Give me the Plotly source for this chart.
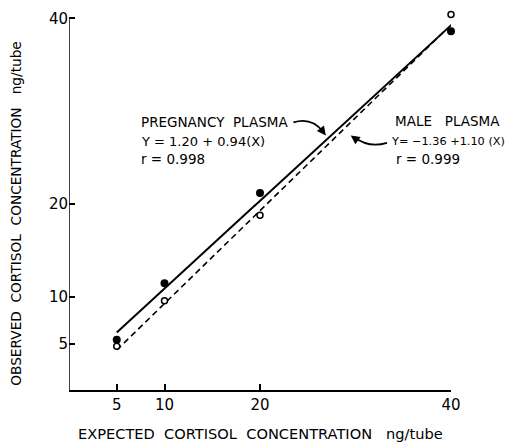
import plotly.graph_objects as go

# Data
expected = [5, 10, 20, 40]
pregnancy_obs = [5.4, 11.5, 21.2, 38.6]
male_obs = [4.7, 9.6, 18.8, 40.4]

# Regression lines as drawn in the figure (endpoints)
preg_line_x = [5, 40.9]
preg_line_y = [6.2, 40.1]
male_line_x = [5, 39.5]
male_line_y = [4.3, 38.8]

x_ticks = [5, 10, 20, 40]
y_ticks = [5, 10, 20, 40]
x_ticklabels = ["5", "10", "20", "40"]
y_ticklabels = ["5", "10", "20", "40"]
axis_max = 40

FONT = "DejaVu Sans, Liberation Sans, sans-serif"

fig = go.Figure()
fig.add_trace(go.Scatter(x=preg_line_x, y=preg_line_y, mode="lines",
                         line=dict(color="black", width=2), cliponaxis=False,
                         showlegend=False, hoverinfo="skip"))
fig.add_trace(go.Scatter(x=male_line_x, y=male_line_y, mode="lines",
                         line=dict(color="black", width=1.6, dash="6px,4px"), cliponaxis=False,
                         showlegend=False, hoverinfo="skip"))
fig.add_trace(go.Scatter(x=expected, y=pregnancy_obs, mode="markers",
                         marker=dict(color="black", size=8), cliponaxis=False,
                         name="Pregnancy plasma", showlegend=False))
fig.add_trace(go.Scatter(x=expected, y=male_obs, mode="markers",
                         marker=dict(color="white", size=6, line=dict(color="black", width=1.5)),
                         cliponaxis=False, name="Male plasma", showlegend=False))

def f(s):
    return dict(size=s, color="black", family=FONT)

annotations = [
    dict(x=7.3, y=28.8, text="PREGNANCY&nbsp;&nbsp;PLASMA", font=f(13.5)),
    dict(x=7.3, y=26.7, text="Y = 1.20 + 0.94(X)", font=f(13)),
    dict(x=7.3, y=24.9, text="r = 0.998", font=f(13.5)),
    dict(x=33.9, y=28.9, text="MALE&nbsp;&nbsp;&nbsp;PLASMA", font=f(13.5)),
    dict(x=33.5, y=26.7, text="Y= −1.36 +1.10 (X)", font=f(11.3)),
    dict(x=34.0, y=24.9, text="r = 0.999", font=f(13.5)),
]
for a in annotations:
    a.update(xref="x", yref="y", showarrow=False, xanchor="left", yanchor="middle")

# arrowheads
annotations.append(dict(x=26.9, y=27.4, ax=26.3, ay=28.2, xref="x", yref="y", axref="x", ayref="y",
                        text="", showarrow=True, arrowhead=2, arrowsize=1.0, arrowwidth=1.8,
                        arrowcolor="black"))
annotations.append(dict(x=29.5, y=27.4, ax=30.3, ay=26.8, xref="x", yref="y", axref="x", ayref="y",
                        text="", showarrow=True, arrowhead=2, arrowsize=1.0, arrowwidth=1.8,
                        arrowcolor="black"))

# axis titles
annotations.append(dict(x=0.5, y=-0.113, xref="paper", yref="paper", showarrow=False,
                        text="EXPECTED&nbsp;&nbsp;CORTISOL&nbsp;&nbsp;CONCENTRATION&nbsp;&nbsp;&nbsp;ng/tube",
                        font=f(14.6), xanchor="center", yanchor="middle"))
annotations.append(dict(x=-0.139, y=0.465, xref="paper", yref="paper", showarrow=False,
                        text="OBSERVED&nbsp;&nbsp;CORTISOL&nbsp;&nbsp;CONCENTRATION&nbsp;&nbsp;&nbsp;ng/tube",
                        textangle=-90, font=f(13.7), xanchor="center", yanchor="middle"))

shapes = [
    dict(type="path", xref="x", yref="y",
         path="M 23.5 28.8 Q 25.4 29.4 26.6 27.8",
         line=dict(color="black", width=1.8)),
    dict(type="path", xref="x", yref="y",
         path="M 33.3 26.6 Q 31.4 26.0 29.9 27.2",
         line=dict(color="black", width=1.8)),
    # y axis line ending at the top tick
    dict(type="line", xref="x", yref="y", x0=0, x1=0, y0=0, y1=axis_max,
         line=dict(color="black", width=1.5)),
]

fig.update_layout(
    width=505, height=434,
    margin=dict(l=61, r=62, t=1, b=52),
    paper_bgcolor="white", plot_bgcolor="white",
    font=dict(family=FONT, color="black", size=14),
    annotations=annotations, shapes=shapes,
    xaxis=dict(range=[0, axis_max], tickvals=x_ticks, ticktext=x_ticklabels,
               showgrid=False, zeroline=False, showline=True, linecolor="black", linewidth=1.5,
               ticks="inside", ticklen=6, tickwidth=1.5, tickcolor="black",
               tickfont=dict(size=15, family=FONT, color="black")),
    yaxis=dict(range=[0, 41], tickvals=y_ticks, ticktext=y_ticklabels,
               showgrid=False, zeroline=False, showline=False,
               ticks="inside", ticklen=6, tickwidth=1.5, tickcolor="black",
               tickfont=dict(size=15, family=FONT, color="black")),
)

fig.write_html("out.html")
